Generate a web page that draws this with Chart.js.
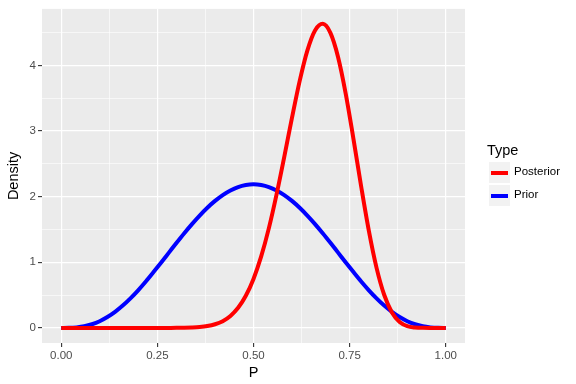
<!DOCTYPE html>
<html>
<head>
<meta charset="utf-8">
<script src="https://cdn.jsdelivr.net/npm/chart.js@4"></script>
<style>
  html, body { margin: 0; padding: 0; background: #ffffff; }
  #wrap { position: relative; width: 576px; height: 384px; font-family: "Liberation Sans", Arial, sans-serif; }
  canvas { position: absolute; left: 0; top: 0; }
  .lg-title { position: absolute; left: 487px; top: 142px; font-size: 14.5px; color: #000; }
  .lg-key { position: absolute; left: 489px; width: 21px; height: 21px; background: #f2f2f2; }
  .lg-line { position: absolute; left: 2px; right: 2px; top: 8.5px; height: 4px; }
  .lg-label { position: absolute; left: 514px; font-size: 11.5px; color: #000; }
</style>
</head>
<body>
<div id="wrap">
  <canvas id="c" width="576" height="384"></canvas>
  <div class="lg-title">Type</div>
  <div class="lg-key" style="top:162px"><div class="lg-line" style="background:#ff0000"></div></div>
  <div class="lg-label" style="top:165px">Posterior</div>
  <div class="lg-key" style="top:185px"><div class="lg-line" style="background:#0000ff"></div></div>
  <div class="lg-label" style="top:188px">Prior</div>
</div>
<script>
// ---- data ----
const P = [0.00,0.02,0.04,0.06,0.08,0.10,0.12,0.14,0.16,0.18,0.20,0.22,0.24,0.26,0.28,0.30,0.32,0.34,0.36,0.38,0.40,0.42,0.44,0.46,0.48,0.50,0.52,0.54,0.56,0.58,0.60,0.62,0.64,0.66,0.68,0.70,0.72,0.74,0.76,0.78,0.80,0.82,0.84,0.86,0.88,0.90,0.92,0.94,0.96,0.98,1.00];
const priorDensity = [0,0.001,0.008,0.025,0.056,0.102,0.165,0.244,0.340,0.450,0.573,0.707,0.850,0.997,1.147,1.297,1.443,1.582,1.712,1.831,1.935,2.024,2.094,2.146,2.177,2.188,2.177,2.146,2.094,2.024,1.935,1.831,1.712,1.582,1.443,1.297,1.147,0.997,0.850,0.707,0.573,0.450,0.340,0.244,0.165,0.102,0.056,0.025,0.008,0.001,0];
const posteriorDensity = [0,0,0,0,0,0,0,0,0,0,0,0,0,0.0001,0.0003,0.0009,0.0025,0.006,0.013,0.028,0.056,0.103,0.182,0.306,0.489,0.746,1.089,1.520,2.034,2.606,3.199,3.760,4.225,4.532,4.632,4.495,4.125,3.563,2.877,2.154,1.478,0.915,0.501,0.236,0.091,0.027,0.006,0.0006,0,0,0];
const xTickValues = [0, 0.25, 0.5, 0.75, 1];
const xTickLabels = ['0.00', '0.25', '0.50', '0.75', '1.00'];
const yTickValues = [0, 1, 2, 3, 4];
const yTickLabels = ['0', '1', '2', '3', '4'];
const xMinor = [0.125, 0.375, 0.625, 0.875];
const yMinor = [0.5, 1.5, 2.5, 3.5, 4.5];

const toPts = ys => P.map((x, i) => ({ x: x, y: ys[i] }));

const panelBg = {
  id: 'panelBg',
  beforeDraw(chart) {
    const a = chart.chartArea, ctx = chart.ctx;
    ctx.save();
    ctx.fillStyle = '#ebebeb';
    ctx.fillRect(a.left, a.top, a.right - a.left, a.bottom - a.top);
    ctx.restore();
  }
};

function isMajor(list, v) { return list.some(t => Math.abs(t - v) < 1e-9); }

new Chart(document.getElementById('c'), {
  type: 'line',
  data: {
    datasets: [
      { label: 'Prior', data: toPts(priorDensity), borderColor: '#0000ff', borderWidth: 4, pointRadius: 0, cubicInterpolationMode: 'monotone', fill: false, order: 2 },
      { label: 'Posterior', data: toPts(posteriorDensity), borderColor: '#ff0000', borderWidth: 4, pointRadius: 0, cubicInterpolationMode: 'monotone', fill: false, order: 1 }
    ]
  },
  options: {
    responsive: false,
    animation: false,
    layout: { padding: { left: 0, right: 111, top: 7, bottom: 0 } },
    plugins: { legend: { display: false }, tooltip: { enabled: false } },
    scales: {
      x: {
        type: 'linear',
        min: -0.05, max: 1.05,
        afterBuildTicks(s) { s.ticks = xTickValues.concat(xMinor).sort((a, b) => a - b).map(v => ({ value: v })); },
        afterFit(s) { s.height = 41; },
        border: { display: false },
        grid: {
          color: '#ffffff',
          lineWidth: c => (c.tick && isMajor(xTickValues, c.tick.value)) ? 1.2 : 0.6,
          tickColor: c => (c.tick && isMajor(xTickValues, c.tick.value)) ? '#333333' : 'rgba(0,0,0,0)',
          tickLength: 4,
          tickWidth: 1.1,
          drawOnChartArea: true
        },
        ticks: {
          autoSkip: false, maxRotation: 0, padding: 2,
          color: '#4d4d4d',
          font: { family: 'Liberation Sans', size: 11.5 },
          callback: v => { const i = xTickValues.findIndex(t => Math.abs(t - v) < 1e-9); return i >= 0 ? xTickLabels[i] : ''; }
        },
        title: { display: true, text: 'P', color: '#000000', font: { family: 'Liberation Sans', size: 14.5 }, padding: { top: 0, bottom: 2 } }
      },
      y: {
        type: 'linear',
        min: -0.23, max: 4.86,
        afterBuildTicks(s) { s.ticks = yTickValues.concat(yMinor).sort((a, b) => a - b).map(v => ({ value: v })); },
        afterFit(s) { s.width = 42; },
        border: { display: false },
        grid: {
          color: '#ffffff',
          lineWidth: c => (c.tick && isMajor(yTickValues, c.tick.value)) ? 1.2 : 0.6,
          tickColor: c => (c.tick && isMajor(yTickValues, c.tick.value)) ? '#333333' : 'rgba(0,0,0,0)',
          tickLength: 4,
          tickWidth: 1.1
        },
        ticks: {
          autoSkip: false, padding: 2,
          color: '#4d4d4d',
          font: { family: 'Liberation Sans', size: 11.5 },
          callback: v => { const i = yTickValues.findIndex(t => Math.abs(t - v) < 1e-9); return i >= 0 ? yTickLabels[i] : ''; }
        },
        title: { display: true, text: 'Density', color: '#000000', font: { family: 'Liberation Sans', size: 14.5 }, padding: { top: 5, bottom: 4 } }
      }
    }
  },
  plugins: [panelBg]
});
</script>
</body>
</html>
